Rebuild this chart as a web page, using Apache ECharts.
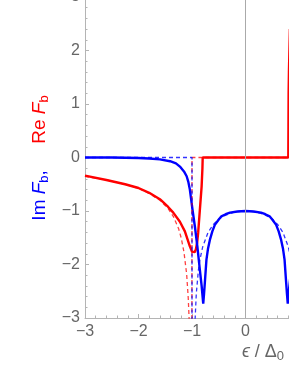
<!DOCTYPE html>
<html><head><meta charset="utf-8">
<script src="https://cdn.jsdelivr.net/npm/echarts@6/dist/echarts.min.js"></script>
<style>html,body{margin:0;padding:0;background:#fff}#c{width:289px;height:374px}</style>
</head><body><div id="c"></div>
<script>
// Re F_b (solid)
const reSolidX = [-3,-2.6,-2.25,-2.0,-1.8,-1.6,-1.45,-1.35,-1.226,-1.133,-1.04,-1.0,-0.978,-0.95,-0.928,-0.905,-0.885,-0.853,-0.82,-0.805,-0.80,0.80,0.803,0.806,0.812,0.83];
const reSolidY = [-0.34,-0.42,-0.50,-0.57,-0.66,-0.78,-0.92,-1.03,-1.20,-1.38,-1.66,-1.76,-1.78,-1.77,-1.72,-1.60,-1.41,-0.98,-0.54,-0.20,0,0,0.6,1.2,1.6,2.4];
// Im F_b (solid)
const imSolidX = [-3,-2.5,-2.0,-1.8,-1.6,-1.41,-1.3,-1.226,-1.15,-1.10,-1.07,-1.04,-0.99,-0.946,-0.90,-0.853,-0.82,-0.79,-0.775,-0.76,-0.73,-0.70,-0.666,-0.62,-0.573,-0.5,-0.45,-0.37,-0.29,-0.15,0,0.15,0.29,0.37,0.45,0.5,0.573,0.62,0.666,0.70,0.73,0.76,0.775,0.79,0.80,0.853,0.90];
const imSolidY = [0,0,-0.01,-0.02,-0.035,-0.07,-0.11,-0.17,-0.26,-0.35,-0.45,-0.60,-0.98,-1.29,-1.66,-2.10,-2.40,-2.73,-2.55,-2.34,-1.91,-1.70,-1.54,-1.38,-1.26,-1.16,-1.10,-1.06,-1.03,-1.01,-1.0,-1.01,-1.03,-1.06,-1.10,-1.16,-1.26,-1.38,-1.54,-1.70,-1.91,-2.34,-2.55,-2.73,-2.59,-2.10,-1.66];
// Re F_b (dashed reference)
const reDashX = [-3,-2.6,-2.25,-2.0,-1.8,-1.6,-1.45,-1.35,-1.25,-1.2,-1.15,-1.1,-1.07,-1.05,-1.03,-1.015,-1.005,-1.0,-1.0,1.0];
const reDashY = [-0.354,-0.42,-0.50,-0.58,-0.67,-0.80,-0.95,-1.10,-1.33,-1.51,-1.77,-2.18,-2.63,-3.1,-4.1,-5.8,-10,-10,0,0];
// Im F_b (dashed reference)
const imDashX = [-3,-1.0,-1.0,-0.98,-0.95,-0.92,-0.88,-0.85,-0.8,-0.7,-0.6,-0.5,-0.4,-0.3,-0.2,-0.1,0,0.1,0.2,0.3,0.4,0.5,0.6,0.7,0.8,0.85,0.88,0.92,0.95,0.98,1.0];
const imDashY = [0,0,-10,-5.0,-3.2,-2.55,-2.1,-1.9,-1.67,-1.4,-1.25,-1.15,-1.09,-1.05,-1.02,-1.005,-1.0,-1.005,-1.02,-1.05,-1.09,-1.15,-1.25,-1.4,-1.67,-1.9,-2.1,-2.55,-3.2,-5.0,-10];

const xMin = -3, xMax = 3, yMin = -3, yMax = 3;
const zip = (xs, ys) => xs.map((x, i) => [x, ys[i]]);
const RED = '#ff0000', BLUE = '#0000ff', AX = '#b4b4b4', LBL = '#666666';
const fmt = v => (v < 0 ? '\u2212' : '') + Math.abs(v);

const chart = echarts.init(document.getElementById('c'), null, {renderer: 'canvas'});
const axisCommon = {
  type: 'value', interval: 1,
  axisLine: {show: true, onZero: false, lineStyle: {color: AX, width: 1}},
  axisTick: {show: true, inside: true, length: 4, lineStyle: {color: AX}},
  minorTick: {show: true, splitNumber: 5, length: 2.5, lineStyle: {color: AX}},
  splitLine: {show: false},
  axisLabel: {color: LBL, fontSize: 16, fontFamily: 'Liberation Sans', formatter: fmt}
};
const F = 'Liberation Sans';
chart.setOption({
  animation: false,
  grid: {left: 85, top: -3, bottom: 56, right: -117, containLabel: false, outerBoundsMode: 'none'},
  xAxis: Object.assign({}, axisCommon, {min: xMin, max: xMax,
    axisLabel: Object.assign({}, axisCommon.axisLabel, {margin: 6})}),
  yAxis: Object.assign({}, axisCommon, {min: yMin, max: yMax,
    axisLabel: Object.assign({}, axisCommon.axisLabel, {margin: 5})}),
  series: [
    {type: 'line', data: zip(reSolidX, reSolidY), showSymbol: false, clip: true,
     lineStyle: {color: RED, width: 2.4}, z: 3,
     markLine: {silent: true, symbol: 'none', label: {show: false},
       lineStyle: {color: '#aaaaaa', width: 1, type: 'solid'}, data: [{xAxis: 0}]}},
    {type: 'line', data: zip(imSolidX, imSolidY), showSymbol: false, clip: true,
     lineStyle: {color: BLUE, width: 2.4}, z: 3},
    {type: 'line', data: zip(reDashX, reDashY), showSymbol: false, clip: true,
     lineStyle: {color: RED, width: 1.3, type: [4, 3], opacity: 0.75}, z: 4},
    {type: 'line', data: zip(imDashX, imDashY), showSymbol: false, clip: true,
     lineStyle: {color: BLUE, width: 1.3, type: [4, 3], opacity: 0.8}, z: 4}
  ],
  graphic: [
    {type: 'text', x: 40, y: 158, rotation: Math.PI / 2, silent: true,
     style: {
       text: '{bi|Im }{bf|F}{bs|b}{bi|,}{sp|     }{ri|Re }{rf|F}{rs|b}',
       align: 'center', verticalAlign: 'middle',
       rich: {
         bi: {fill: BLUE, fontSize: 19, fontFamily: F, verticalAlign: 'middle'},
         bf: {fill: BLUE, fontSize: 19, fontStyle: 'italic', fontFamily: F, verticalAlign: 'middle'},
         bs: {fill: BLUE, fontSize: 13, fontFamily: F, verticalAlign: 'middle', padding: [9, 0, 0, 0]},
         sp: {fontSize: 19, verticalAlign: 'middle'},
         ri: {fill: RED, fontSize: 19, fontFamily: F, verticalAlign: 'middle'},
         rf: {fill: RED, fontSize: 19, fontStyle: 'italic', fontFamily: F, verticalAlign: 'middle'},
         rs: {fill: RED, fontSize: 13, fontFamily: F, verticalAlign: 'middle', padding: [9, 0, 0, 0]}
       }
     }},
    {type: 'text', x: 263, y: 352, silent: true,
     style: {
       text: '{e|\u03f5}{t| / \u0394}{s|0}',
       align: 'center', verticalAlign: 'middle',
       rich: {
         e: {fill: LBL, fontSize: 18, fontStyle: 'italic', fontFamily: F, verticalAlign: 'middle'},
         t: {fill: LBL, fontSize: 18, fontFamily: F, verticalAlign: 'middle'},
         s: {fill: LBL, fontSize: 13, fontFamily: F, verticalAlign: 'middle', padding: [8, 0, 0, 0]}
       }
     }}
  ]
});
</script></body></html>
